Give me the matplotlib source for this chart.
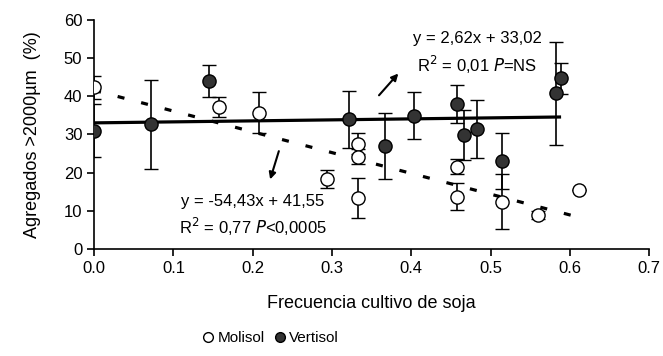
import numpy as np
import matplotlib.pyplot as plt
from matplotlib.lines import Line2D

plt.rcParams['font.family'] = ['Liberation Sans', 'DejaVu Sans']

# Molisol (open circles)
mol_x = [0.0, 0.158, 0.208, 0.294, 0.333, 0.333, 0.333, 0.458, 0.458, 0.514, 0.560, 0.611]
mol_y = [42.3, 37.2, 35.7, 18.3, 27.6, 24.2, 13.3, 21.5, 13.7, 12.4, 8.9, 15.3]
mol_err = [3.0, 2.6, 5.3, 2.3, 2.7, 2.0, 5.3, 2.0, 3.6, 7.3, 1.0, 0.0]

# Vertisol (filled circles)
ver_x = [0.0, 0.072, 0.145, 0.322, 0.367, 0.404, 0.458, 0.466, 0.483, 0.514, 0.583, 0.589]
ver_y = [31.0, 32.6, 44.1, 34.0, 27.0, 34.9, 38.0, 29.8, 31.3, 23.0, 40.8, 44.7]
ver_err = [7.0, 11.6, 4.2, 7.5, 8.6, 6.2, 4.9, 6.5, 7.6, 7.4, 13.5, 4.0]

# regression lines (slope, intercept, x range)
mol_fit = (-54.43, 41.55, 0.0, 0.611)
ver_fit = (2.62, 33.02, 0.0, 0.589)

fig = plt.figure(figsize=(6.63, 3.56), dpi=100)
ax = fig.add_axes([0.142, 0.301, 0.837, 0.643])

# fitted lines
xs = np.array(ver_fit[2:])
ax.plot(xs, ver_fit[0] * xs + ver_fit[1], color='black', lw=2.3, zorder=1,
        solid_capstyle='butt')
xs = np.array(mol_fit[2:])
ax.plot(xs, mol_fit[0] * xs + mol_fit[1], color='black', lw=2.3, zorder=1,
        dashes=(2.2, 5.4))

# data with error bars
ax.errorbar(mol_x, mol_y, yerr=mol_err, fmt='o', ms=9.5, mfc='white', mec='black',
            mew=1.0, ecolor='black', elinewidth=1.2, capsize=5, capthick=1.2,
            zorder=3)
ax.errorbar(ver_x, ver_y, yerr=ver_err, fmt='o', ms=9.5, mfc='#333333', mec='black',
            mew=1.0, ecolor='black', elinewidth=1.2, capsize=5, capthick=1.2,
            zorder=3)

ax.set_xlim(0, 0.7)
ax.set_ylim(0, 60)
ax.set_xticks(np.arange(0, 0.71, 0.1))
ax.set_xticklabels([f'{v:.1f}' for v in np.arange(0, 0.71, 0.1)])
ax.set_yticks(range(0, 61, 10))
ax.tick_params(labelsize=12, direction='out', length=5, width=1.2, colors='black')
for s in ['top', 'right']:
    ax.spines[s].set_visible(False)
for s in ['left', 'bottom']:
    ax.spines[s].set_linewidth(1.2)

ax.set_xlabel('Frecuencia cultivo de soja', fontsize=13, labelpad=14)
ax.set_ylabel('Agregados >2000µm  (%)', fontsize=13, labelpad=16)

# equations
ax.text(0.483, 55.2, 'y = 2,62x + 33,02', fontsize=12, ha='center', va='center')
ax.text(0.483, 48.2, 'R$^2$ = 0,01 $\\it{P}$=NS', fontsize=12, ha='center', va='center')
ax.annotate('', xy=(0.386, 46.5), xytext=(0.357, 39.7),
            arrowprops=dict(arrowstyle='-|>', color='black', lw=1.5, mutation_scale=10))

ax.text(0.2, 12.4, 'y = -54,43x + 41,55', fontsize=12, ha='center', va='center')
ax.text(0.2, 5.7, 'R$^2$ = 0,77 $\\it{P}$<0,0005', fontsize=12, ha='center', va='center')
ax.annotate('', xy=(0.221, 17.5), xytext=(0.234, 26.3),
            arrowprops=dict(arrowstyle='-|>', color='black', lw=1.5, mutation_scale=10))

handles = [Line2D([], [], ls='none', marker='o', ms=7, mfc='white', mec='black', mew=1.0),
           Line2D([], [], ls='none', marker='o', ms=7, mfc='#333333', mec='black', mew=1.0)]
fig.legend(handles, ['Molisol', 'Vertisol'], loc='center', bbox_to_anchor=(0.407, 0.05),
           ncol=2, frameon=False, fontsize=11, handletextpad=0.1, columnspacing=0.5,
           handlelength=1.0)

fig.savefig('out.png', dpi=100)
